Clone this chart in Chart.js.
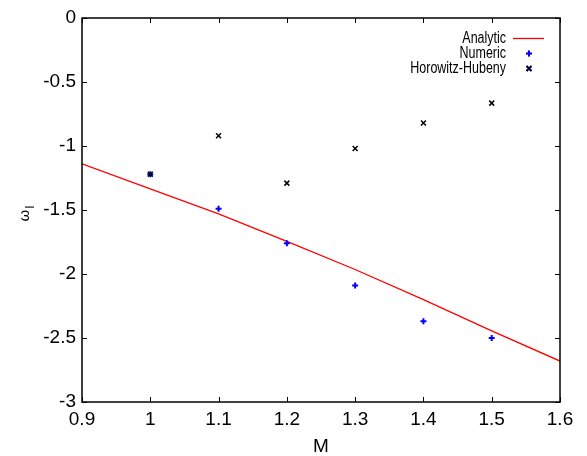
<!DOCTYPE html>
<html>
<head>
<meta charset="utf-8">
<script src="https://cdn.jsdelivr.net/npm/chart.js@4/dist/chart.umd.min.js"></script>
<style>
  html, body { margin: 0; padding: 0; background: #fff; }
  #wrap { width: 587px; height: 456px; }
</style>
</head>
<body>
<div id="wrap"><canvas id="chart" width="587" height="456"></canvas></div>
<script>
// frequency vs. M: analytic curve against numeric and Horowitz-Hubeny points
const mValues = [1.0, 1.1, 1.2, 1.3, 1.4, 1.5];
const numericOmega = [-1.22, -1.49, -1.76, -2.09, -2.37, -2.50];
const hubenyOmega = [-1.22, -0.92, -1.29, -1.02, -0.82, -0.665];

const analyticM = [0.9, 1.0, 1.1, 1.2, 1.3, 1.4, 1.5, 1.6];
const analyticOmega = [-1.14, -1.335, -1.53, -1.745, -1.965, -2.20, -2.445, -2.68];

const seriesNames = ['Analytic', 'Numeric', 'Horowitz-Hubeny'];

const FONT = "'Liberation Sans', Arial, sans-serif";

const toXY = (xs, ys) => xs.map((x, i) => ({ x: x, y: ys[i] }));

// plain numbers, no trailing zeros (1 rather than 1.0)
const plainLabel = v => String(parseFloat(Number(v).toFixed(2)));

// gnuplot style frame: box + inward ticks on all four sides
const framePlugin = {
  id: 'frame',
  afterDraw(chart) {
    const { ctx, chartArea: a, scales } = chart;
    const len = 5;
    ctx.save();
    ctx.strokeStyle = '#000';
    ctx.lineWidth = 1;
    ctx.beginPath();
    scales.x.ticks.forEach(t => {
      const px = Math.round(scales.x.getPixelForValue(t.value)) + 0.5;
      ctx.moveTo(px, a.bottom); ctx.lineTo(px, a.bottom - len);
      ctx.moveTo(px, a.top); ctx.lineTo(px, a.top + len);
    });
    scales.y.ticks.forEach(t => {
      const py = Math.round(scales.y.getPixelForValue(t.value)) + 0.5;
      ctx.moveTo(a.left, py); ctx.lineTo(a.left + len, py);
      ctx.moveTo(a.right, py); ctx.lineTo(a.right - len, py);
    });
    ctx.stroke();
    ctx.lineWidth = 1.5;
    ctx.strokeRect(a.left, a.top, a.right - a.left, a.bottom - a.top);
    ctx.restore();
  }
};

// rotated y title with subscript
const yTitlePlugin = {
  id: 'yTitle',
  afterDraw(chart) {
    const ctx = chart.ctx;
    ctx.save();
    ctx.translate(28.5, 221.5);
    ctx.rotate(-Math.PI / 2);
    ctx.fillStyle = '#000';
    ctx.textAlign = 'left';
    ctx.textBaseline = 'alphabetic';
    ctx.font = '15px ' + FONT;
    ctx.fillText('ω', 0, 0);
    const w = ctx.measureText('ω').width;
    ctx.font = '12px ' + FONT;
    ctx.fillText('I', w + 1, 5);
    ctx.restore();
  }
};

// key in the top right corner: text first, sample after
const keyPlugin = {
  id: 'key',
  afterDraw(chart) {
    const ctx = chart.ctx;
    const textRight = 506, sampleX = 529, top = 38.5, step = 15;
    ctx.save();
    ctx.font = '16px ' + FONT;
    ctx.textBaseline = 'middle';
    chart.data.datasets.forEach((ds, i) => {
      const y = top + i * step;
      // narrow lettering, squeezed horizontally
      ctx.save();
      ctx.translate(textRight, y);
      ctx.scale(0.78, 1);
      ctx.textAlign = 'right';
      ctx.fillStyle = '#000';
      ctx.fillText(ds.label, 0, 0);
      ctx.restore();
      if (ds.showLine) {
        ctx.strokeStyle = ds.borderColor;
        ctx.lineWidth = ds.borderWidth;
        ctx.beginPath();
        ctx.moveTo(513, y); ctx.lineTo(544, y);
        ctx.stroke();
      } else {
        Chart.helpers.drawPoint(ctx, {
          pointStyle: ds.pointStyle,
          radius: ds.pointRadius,
          borderWidth: ds.borderWidth,
          rotation: 0
        }, sampleX, y);
        ctx.strokeStyle = ds.borderColor;
        ctx.lineWidth = ds.borderWidth;
        ctx.stroke();
      }
    });
    ctx.restore();
  }
};

const tickFont = { family: FONT, size: 19 };

new Chart(document.getElementById('chart'), {
  type: 'scatter',
  data: {
    datasets: [
      {
        label: seriesNames[0],
        data: toXY(analyticM, analyticOmega),
        showLine: true,
        borderColor: '#ff0000',
        borderWidth: 1.3,
        pointRadius: 0,
        order: 3
      },
      {
        label: seriesNames[1],
        data: toXY(mValues, numericOmega),
        pointStyle: 'cross',
        pointRadius: 3,
        borderColor: '#0000ff',
        backgroundColor: '#0000ff',
        borderWidth: 2,
        order: 2
      },
      {
        label: seriesNames[2],
        data: toXY(mValues, hubenyOmega),
        pointStyle: 'crossRot',
        pointRadius: 3.5,
        borderColor: '#000',
        backgroundColor: '#000',
        borderWidth: 1.5,
        order: 1
      }
    ]
  },
  options: {
    responsive: false,
    animation: false,
    events: [],
    layout: { padding: { top: 18, right: 27, left: 0, bottom: 0 } },
    plugins: {
      legend: { display: false },
      tooltip: { enabled: false }
    },
    scales: {
      x: {
        type: 'linear',
        min: 0.9,
        max: 1.6,
        grid: { display: false, drawTicks: false },
        border: { display: false },
        ticks: { stepSize: 0.1, color: '#000', font: tickFont, padding: 6, maxRotation: 0, callback: plainLabel },
        title: { display: true, text: 'M', color: '#000', font: tickFont, padding: { top: 0, bottom: -2 } },
        afterFit(s) { s.height = 54; }
      },
      y: {
        min: -3,
        max: 0,
        grid: { display: false, drawTicks: false },
        border: { display: false },
        ticks: { stepSize: 0.5, color: '#000', font: tickFont, padding: 6, callback: plainLabel },
        afterFit(s) { s.width = 82; }
      }
    }
  },
  plugins: [framePlugin, yTitlePlugin, keyPlugin]
});
</script>
</body>
</html>
